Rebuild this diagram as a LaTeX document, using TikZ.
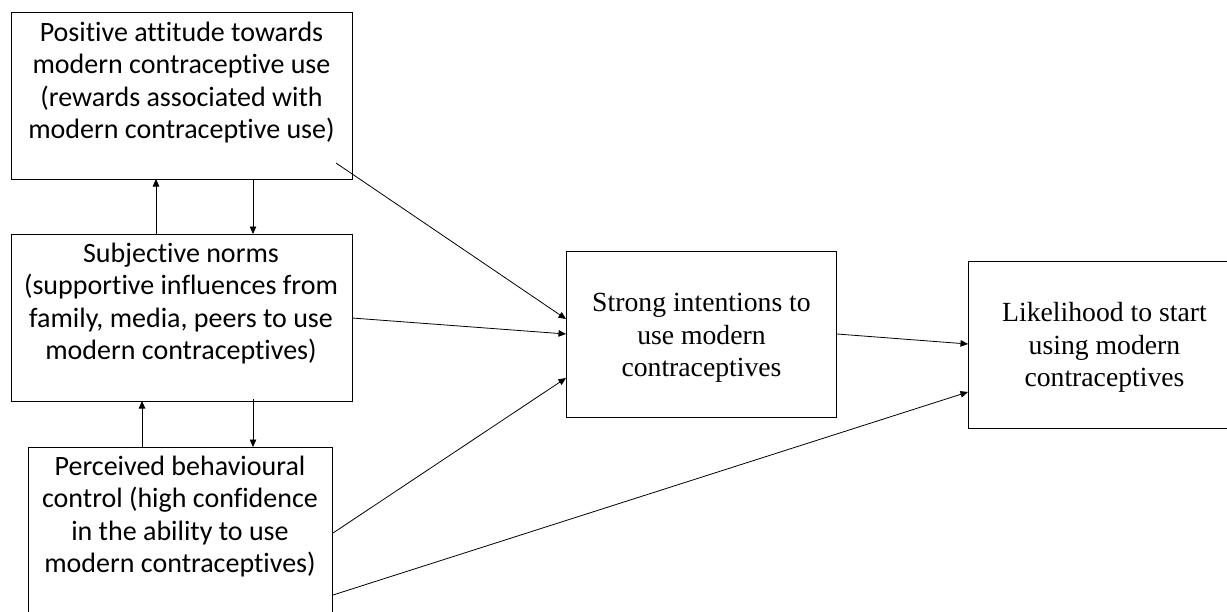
\documentclass[tikz,border=0pt]{standalone}
\usepackage{fontspec}
\setmainfont{Liberation Serif}
\newfontfamily\calfont[Ligatures=NoCommon]{Carlito}
\usetikzlibrary{arrows.meta}
\tikzset{
  box/.style={draw=black, line width=1.2pt, anchor=north west, inner sep=0pt},
  ctext/.style={font=\calfont\fontsize{28}{32.6}\selectfont, align=center, anchor=north, inner sep=0pt},
  ttext/.style={font=\fontsize{27.7}{32.6}\selectfont, align=center, anchor=north, inner sep=0pt},
  arr/.style={line width=0.8pt, -{Triangle[length=7.5pt,width=6.5pt]}}
}
\begin{document}
\begin{tikzpicture}[x=1pt,y=-1pt]
\useasboundingbox (0,0) rectangle (1227,611);
\clip (0,0) rectangle (1227,611);
% boxes
\node[box, minimum width=341pt, minimum height=167pt] (A) at (11,12) {};
\node[box, minimum width=341pt, minimum height=167pt] (B) at (11,234) {};
\node[box, minimum width=304pt, minimum height=180pt] (C) at (28,447) {};
\node[box, minimum width=270pt, minimum height=166pt] (D) at (566,251) {};
\node[box, minimum width=272pt, minimum height=167pt] (E) at (968,261) {};
% texts
\node[ctext] (At) at (181.5,21.5) {Positive attitude towards\\modern contraceptive use\\(rewards associated with\\modern contraceptive use)};
\node[ctext] (Bt) at (181,242.5) {Subjective norms\\(supportive influences from\\family, media, peers to use\\modern contraceptives)};
\node[ctext] (Ct) at (180,455.5) {Perceived behavioural\\control (high confidence\\in the ability to use\\modern contraceptives)};
\node[ttext] (Dt) at (701.5,293) {Strong intentions to\\use modern\\contraceptives};
\node[ttext] (Et) at (1104.5,302) {Likelihood to start\\using modern\\contraceptives};
% vertical arrows
\coordinate (b1) at (156,234); \coordinate (a1) at (156,179);
\coordinate (a2) at (253,179); \coordinate (b2) at (253,234);
\draw[arr] (b1) -- (a1);
\draw[arr] (a2) -- (b2);
\coordinate (c1) at (142,447); \coordinate (b3) at (142,401);
\coordinate (b4) at (253,399); \coordinate (c2) at (253,447);
\draw[arr] (c1) -- (b3);
\draw[arr] (b4) -- (c2);
% diagonal arrows
\coordinate (aout) at (336,163); \coordinate (din1) at (566,319);
\coordinate (bout) at (352,318); \coordinate (din2) at (566,334);
\coordinate (cout1) at (333,533); \coordinate (din3) at (566,378);
\coordinate (dout) at (837,334); \coordinate (ein1) at (968,344);
\coordinate (cout2) at (333,595); \coordinate (ein2) at (968,392);
\draw[arr] (aout) -- (din1);
\draw[arr] (bout) -- (din2);
\draw[arr] (cout1) -- (din3);
\draw[arr] (dout) -- (ein1);
\draw[arr] (cout2) -- (ein2);
\end{tikzpicture}
\end{document}
